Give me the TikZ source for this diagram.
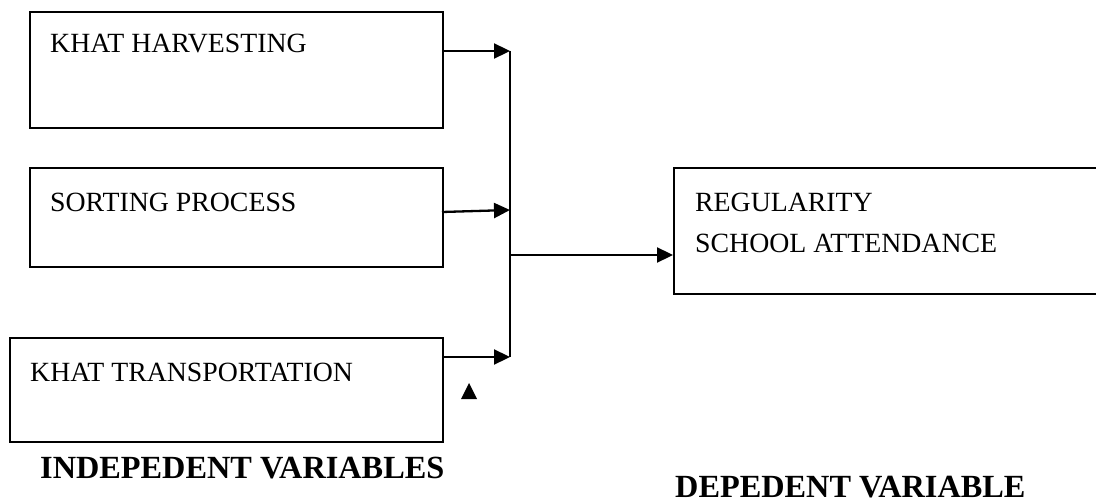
\documentclass[tikz,border=0pt]{standalone}
\usepackage{fontspec}
\setmainfont{Liberation Serif}
\usetikzlibrary{arrows.meta}
\begin{document}
\begin{tikzpicture}[x=1pt,y=-1pt,
  box/.style={draw,line width=2pt,rectangle,anchor=north west,inner sep=0pt},
  lbl/.style={anchor=base west,inner sep=0pt,font=\fontsize{27.8}{33}\selectfont},
  head/.style={anchor=base west,inner sep=0pt,font=\fontsize{32.3}{37}\selectfont\bfseries},
  arr/.style={line width=2.3pt,-{Triangle[length=16pt,width=15pt]}},
  ln/.style={line width=2pt}]
\useasboundingbox (0,0) rectangle (1096,503);
% boxes
\node[box,minimum width=413pt,minimum height=116pt] (b1) at (29,11) {};
\node[box,minimum width=413pt,minimum height=99pt] (b2) at (29,167) {};
\node[box,minimum width=433pt,minimum height=104pt] (b3) at (9,337) {};
\node[box,minimum width=440pt,minimum height=126pt] (b4) at (673,167) {};
% texts
\node[lbl] (t1) at (50,53) {KHAT HARVESTING};
\node[lbl] (t2) at (50,211) {SORTING PROCESS};
\node[lbl] (t3) at (30,381) {KHAT TRANSPORTATION};
\node[lbl] (t4) at (695,211) {REGULARITY};
\node[lbl] (t5) at (695,252) {SCHOOL ATTENDANCE};
\node[head] (h1) at (40,478) {INDEPEDENT VARIABLES};
\node[head] (h2) at (675,497) {DEPEDENT VARIABLE};
% bus coordinates
\coordinate (p1) at (510,51);
\coordinate (p2) at (510,210);
\coordinate (p3) at (510,357);
\coordinate (pm) at (510,255);
\coordinate (s1) at (442,51);
\coordinate (s2) at (442,212);
\coordinate (s3) at (442,357);
\draw[ln] (p1) -- (p3);
\draw[arr] (s1) -- (p1);
\draw[arr] (s2) -- (p2);
\draw[arr] (s3) -- (p3);
\draw[arr] (pm) -- (b4.west |- pm);
% stray triangle
\fill (469,383) -- (477,399) -- (461,399) -- cycle;
\end{tikzpicture}
\end{document}
